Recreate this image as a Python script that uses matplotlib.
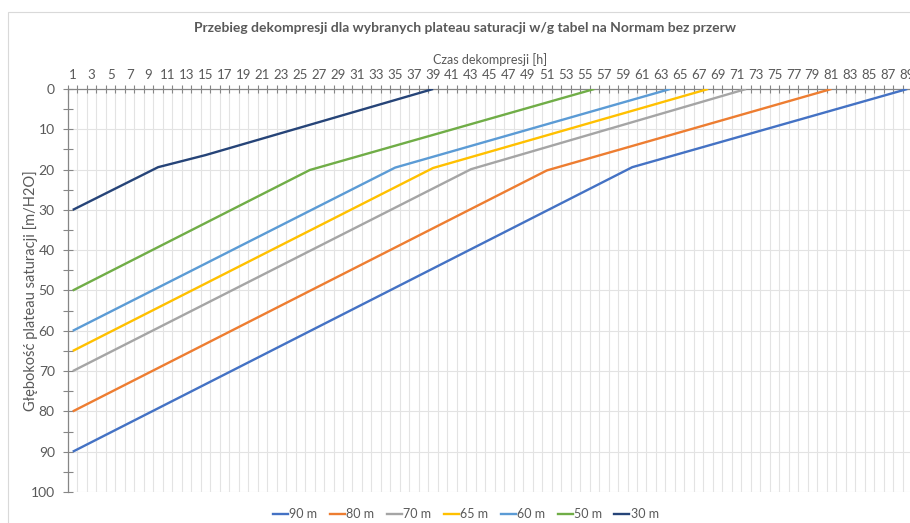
import matplotlib.pyplot as plt
from matplotlib.lines import Line2D
from matplotlib.patches import Rectangle
from matplotlib.ticker import MultipleLocator, FixedLocator

plt.rcParams['font.family'] = ['Lato', 'DejaVu Sans']

# Breakpoints: (hour, plateau depth)
hours_90 = [1, 60, 89]
depth_90 = [90, 19.4, 0]
hours_80 = [1, 51, 81]
depth_80 = [80, 20.2, 0]
hours_70 = [1, 43, 72]
depth_70 = [70, 19.9, 0]
hours_65 = [1, 39, 68]
depth_65 = [65, 19.6, 0]
hours_60 = [1, 35, 64]
depth_60 = [60, 19.5, 0]
hours_50 = [1, 26, 56]
depth_50 = [50, 20.1, 0]
hours_30 = [1, 10, 15, 39]
depth_30 = [30, 19.4, 16.4, 0]

labels = ['90 m', '80 m', '70 m', '65 m', '60 m', '50 m', '30 m']
colors = ['#4472C4', '#ED7D31', '#A5A5A5', '#FFC000', '#5B9BD5', '#70AD47', '#264478']
series = [(hours_90, depth_90), (hours_80, depth_80), (hours_70, depth_70),
          (hours_65, depth_65), (hours_60, depth_60), (hours_50, depth_50),
          (hours_30, depth_30)]

x_ticks = list(range(1, 90, 2))

txt = '#595959'
axis_col = '#868686'
grid_col = '#e3e3e3'

fig = plt.figure(figsize=(9.10, 5.23), dpi=100)
fig.patches.append(Rectangle((8 / 910, -0.01), 1.0, 1 - 12 / 523 + 0.01,
                             transform=fig.transFigure, fill=False,
                             edgecolor='#d9d9d9', linewidth=0.8))

ax = fig.add_axes([68 / 910, 1 - 492 / 523, 844 / 910, 403 / 523])

for (h, d), c in zip(series, colors):
    ax.plot(h, d, color=c, linewidth=1.7, solid_capstyle='butt', zorder=3)

ax.set_xlim(0.5, 89.5)
ax.set_ylim(100, 0)

ax.xaxis.tick_top()
ax.xaxis.set_label_position('top')
ax.set_xticks(x_ticks)
ax.xaxis.set_minor_locator(FixedLocator([i + 0.5 for i in range(0, 90)]))
ax.tick_params(axis='x', which='major', length=0, pad=6, labelsize=9.5, labelcolor=txt)
ax.tick_params(axis='x', which='minor', direction='inout', length=6, color=axis_col, width=0.8)

ax.yaxis.set_major_locator(MultipleLocator(10))
ax.yaxis.set_minor_locator(MultipleLocator(5))
ax.tick_params(axis='y', which='both', direction='inout', length=7, color=axis_col,
               width=0.8, labelsize=10, labelcolor=txt, pad=6)

ax.grid(True, axis='x', which='minor', color=grid_col, linewidth=0.8)
ax.grid(True, axis='y', which='major', color=grid_col, linewidth=0.8)
ax.set_axisbelow(True)

for s in ['bottom', 'right']:
    ax.spines[s].set_visible(False)
ax.spines['top'].set_color(axis_col)
ax.spines['left'].set_color(axis_col)
ax.spines['top'].set_linewidth(0.9)
ax.spines['left'].set_linewidth(0.9)

ax.set_xlabel('Czas dekompresji [h]', fontsize=9, color=txt, labelpad=3)
ax.set_ylabel('Głębokość plateau saturacji [m/H2O]', fontsize=10.5, color=txt)
ax.yaxis.set_label_coords(-0.035, 0.5)

fig.text(465 / 910, 1 - 28 / 523, 'Przebieg dekompresji dla wybranych plateau saturacji w/g tabel na Normam bez przerw',
         ha='center', va='center', fontsize=10, fontweight='bold', color=txt)

handles = [Line2D([0], [0], color=c, linewidth=1.7) for c in colors]
fig.legend(handles, labels, loc='center', bbox_to_anchor=(466 / 910, 1 - 514 / 523),
           ncol=7, frameon=False, fontsize=9, labelcolor=txt,
           handlelength=1.2, handletextpad=0.1, columnspacing=1.0)

fig.savefig('out.png', dpi=100)
